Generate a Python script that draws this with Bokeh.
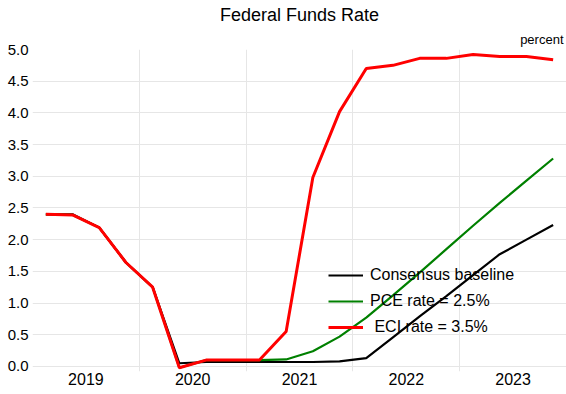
from bokeh.plotting import figure
from bokeh.models import FixedTicker, Legend, LegendItem, Title, Range1d, PrintfTickFormatter
from bokeh.embed import file_html
from bokeh.resources import INLINE

# ---- data ----
quarters = ["2019Q1", "2019Q2", "2019Q3", "2019Q4",
            "2020Q1", "2020Q2", "2020Q3", "2020Q4",
            "2021Q1", "2021Q2", "2021Q3", "2021Q4",
            "2022Q1", "2022Q2", "2022Q3", "2022Q4",
            "2023Q1", "2023Q2", "2023Q3", "2023Q4"]
consensus = [2.40, 2.40, 2.19, 1.64, 1.25, 0.05, 0.07, 0.07,
             0.07, 0.07, 0.07, 0.08, 0.13, 0.46, 0.79, 1.11,
             1.44, 1.77, 2.00, 2.23]
pce = [2.40, 2.39, 2.19, 1.64, 1.25, -0.02, 0.10, 0.10,
       0.10, 0.11, 0.24, 0.47, 0.77, 1.12, 1.48, 1.85,
       2.22, 2.58, 2.93, 3.28]
eci = [2.40, 2.39, 2.19, 1.64, 1.25, -0.02, 0.10, 0.10,
       0.10, 0.55, 2.98, 4.02, 4.70, 4.75, 4.86, 4.86,
       4.92, 4.89, 4.89, 4.84]
years = [2019, 2020, 2021, 2022, 2023]
year_labels = ["2019", "2020", "2021", "2022", "2023"]
y_ticks = [0.0, 0.5, 1.0, 1.5, 2.0, 2.5, 3.0, 3.5, 4.0, 4.5, 5.0]
series_names = ["Consensus baseline", "PCE rate = 2.5%", " ECI rate = 3.5%"]
title_text = "Federal Funds Rate"
unit_text = "percent"

# quarter -> numeric position at the middle of the quarter
xq = [int(q[:4]) + (int(q[5]) - 0.5) / 4 for q in quarters]

FONT = "Liberation Sans"

p = figure(frame_width=534, frame_height=322, output_backend="svg", toolbar_location=None,
           x_range=Range1d(years[0], years[-1] + 1), y_range=Range1d(-0.08, 5.0),
           min_border_left=32, min_border_right=0, min_border_top=0, min_border_bottom=0)

p.title.visible = False

# unit label (closest to frame), then main title above it
p.add_layout(Title(text=unit_text, align="right", offset=3, standoff=5,
                   text_font=FONT, text_font_size="13px", text_font_style="normal",
                   text_color="black"), "above")
p.add_layout(Title(text=title_text, align="center", standoff=5,
                   text_font=FONT, text_font_size="18px", text_font_style="normal",
                   text_color="black"), "above")

p.outline_line_color = None
p.background_fill_color = "white"
p.border_fill_color = "white"

# x axis
p.xaxis.ticker = FixedTicker(ticks=[y + 0.5 for y in years])
p.xaxis.major_label_overrides = {y + 0.5: lab for y, lab in zip(years, year_labels)}
p.xaxis.axis_line_color = None
p.xaxis.major_tick_line_color = None
p.xaxis.minor_tick_line_color = None
p.xaxis.major_tick_out = 0
p.xaxis.major_tick_in = 0
p.xaxis.minor_tick_out = 0
p.xaxis.major_label_text_font = FONT
p.xaxis.major_label_text_font_size = "16px"
p.xaxis.major_label_text_color = "black"
p.xaxis.major_label_standoff = 1
p.xgrid.ticker = FixedTicker(ticks=years[1:])
p.xgrid.grid_line_color = "#e6e6e6"

# y axis
p.yaxis.ticker = FixedTicker(ticks=y_ticks)
p.yaxis.formatter = PrintfTickFormatter(format="%.1f")
p.yaxis.axis_line_color = None
p.yaxis.major_tick_line_color = None
p.yaxis.minor_tick_line_color = None
p.yaxis.major_tick_out = 0
p.yaxis.major_tick_in = 0
p.yaxis.minor_tick_out = 0
p.yaxis.major_label_text_font = FONT
p.yaxis.major_label_text_font_size = "15px"
p.yaxis.major_label_text_color = "black"
p.yaxis.major_label_standoff = 4
p.ygrid.grid_line_color = "#e6e6e6"

r1 = p.line(xq, consensus, line_color="black", line_width=2.2)
r2 = p.line(xq, pce, line_color="#008000", line_width=2.2)
r3 = p.line(xq, eci, line_color="#ff0000", line_width=3)

legend = Legend(items=[LegendItem(label=series_names[0], renderers=[r1]),
                       LegendItem(label=series_names[1], renderers=[r2]),
                       LegendItem(label=series_names[2], renderers=[r3])],
                location=(296, 34))
legend.border_line_color = None
legend.background_fill_alpha = 0
legend.padding = 0
legend.margin = 0
legend.glyph_width = 35
legend.glyph_height = 20
legend.label_height = 20
legend.spacing = 6
legend.label_standoff = 7
legend.label_text_font = FONT
legend.label_text_font_size = "16px"
legend.label_text_color = "black"
p.add_layout(legend, "center")

open("out.html", "w").write(file_html(p, INLINE))
